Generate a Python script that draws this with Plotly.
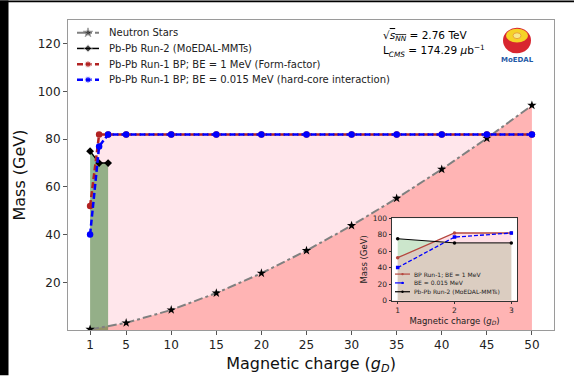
import plotly.graph_objects as go

# ---- data -------------------------------------------------------------
charge_ns = [1, 5, 10, 15, 20, 25, 30, 35, 40, 45, 50]
mass_ns = [0.27, 2.98, 8.43, 15.5, 23.8, 33.3, 43.8, 55.2, 67.4, 80.4, 94.2]

charge_run2 = [1, 2, 3]
mass_run2 = [75, 70, 70]

charge_bp = [1, 2, 3, 5, 10, 15, 20, 25, 30, 35, 40, 45, 50]
mass_bp_ff = [52, 82, 82, 82, 82, 82, 82, 82, 82, 82, 82, 82, 82]
mass_bp_hc = [40, 77, 82, 82, 82, 82, 82, 82, 82, 82, 82, 82, 82]

x_ticks = [1, 5, 10, 15, 20, 25, 30, 35, 40, 45, 50]
y_ticks = [20, 40, 60, 80, 100, 120]
inset_x_ticks = [1, 2, 3]
inset_y_ticks = [0, 20, 40, 60, 80, 100]

FONT = "DejaVu Sans"
W, H = 574, 382
L, R, T, B = 68, 20, 20, 46
PW, PH = W - L - R, H - T - B


def px(xp):
    return (xp - L) / PW


def py(yp):
    return (H - B - yp) / PH


# series styles shared by curves and their legend keys
STYLE_NS = dict(line=dict(color="#808080", width=2, dash="dashdot"), symbol="star", msize=7, mcolor="black")
STYLE_R2 = dict(line=dict(color="black", width=1.5), symbol="diamond", msize=6, mcolor="black")
STYLE_FF = dict(line=dict(color="#b22222", width=2.5, dash="6px,3px"), symbol="circle", msize=6.5, mcolor="#b22222")
STYLE_HC = dict(line=dict(color="#0000ff", width=2.5, dash="6px,3px"), symbol="circle", msize=6.5, mcolor="#0000ff")

fig = go.Figure()

# ---- main panel: shaded regions ---------------------------------------
fig.add_trace(go.Scatter(x=charge_bp, y=mass_bp_ff, mode="lines", line=dict(width=0),
                         fill="tozeroy", fillcolor="#ffe6eb", showlegend=False, hoverinfo="skip"))
fig.add_trace(go.Scatter(x=charge_ns, y=mass_ns, mode="lines", line=dict(width=0),
                         fill="tozeroy", fillcolor="#ffb4b4", showlegend=False, hoverinfo="skip"))
fig.add_trace(go.Scatter(x=charge_run2, y=mass_run2, mode="lines", line=dict(width=0),
                         fill="tozeroy", fillcolor="rgba(0,100,0,0.42)", showlegend=False, hoverinfo="skip"))


def curve(xs, ys, st, **kw):
    return go.Scatter(x=xs, y=ys, mode="lines+markers", showlegend=False, line=st["line"],
                      marker=dict(symbol=st["symbol"], size=st["msize"], color=st["mcolor"]), **kw)


# ---- main panel: curves -----------------------------------------------
fig.add_trace(curve(charge_ns, mass_ns, STYLE_NS))
fig.add_trace(curve(charge_run2, mass_run2, STYLE_R2))
fig.add_trace(curve(charge_bp, mass_bp_ff, STYLE_FF))
fig.add_trace(curve(charge_bp, mass_bp_hc, STYLE_HC))

# ---- inset panel --------------------------------------------------------
n = 3
fig.add_trace(go.Scatter(x=charge_run2[:n], y=mass_run2[:n], mode="lines", line=dict(width=0),
                         fill="tozeroy", fillcolor="rgba(0,128,0,0.2)", showlegend=False,
                         xaxis="x2", yaxis="y2", hoverinfo="skip"))
fig.add_trace(go.Scatter(x=charge_bp[:n], y=mass_bp_ff[:n], mode="lines", line=dict(width=0),
                         fill="tozeroy", fillcolor="rgba(255,150,170,0.3)", showlegend=False,
                         xaxis="x2", yaxis="y2", hoverinfo="skip"))
fig.add_trace(go.Scatter(x=charge_bp[:n], y=mass_bp_ff[:n], mode="lines+markers", showlegend=False,
                         line=dict(color="#b5473f", width=1.3), marker=dict(size=3.5, color="#b5473f"),
                         xaxis="x2", yaxis="y2"))
fig.add_trace(go.Scatter(x=charge_bp[:n], y=mass_bp_hc[:n], mode="lines+markers", showlegend=False,
                         line=dict(color="#0000ff", width=1.3, dash="4px,2px"),
                         marker=dict(size=3.5, symbol="square", color="#0000ff"),
                         xaxis="x2", yaxis="y2"))
fig.add_trace(go.Scatter(x=charge_run2[:n], y=mass_run2[:n], mode="lines+markers", showlegend=False,
                         line=dict(color="black", width=1), marker=dict(size=3.5, color="black"),
                         xaxis="x2", yaxis="y2"))

shapes = []
annotations = []

# ---- main legend (keys drawn on a pixel-unit overlay axis) ---------------
main_legend = [
    ("Neutron Stars", STYLE_NS, 33),
    ("Pb-Pb Run-2 (MoEDAL-MMTs)", STYLE_R2, 49),
    ("Pb-Pb Run-1 BP; BE = 1 MeV (Form-factor)", STYLE_FF, 65),
    ("Pb-Pb Run-1 BP; BE = 0.015 MeV (hard-core interaction)", STYLE_HC, 81),
]
for label, st, yp in main_legend:
    fig.add_trace(go.Scatter(x=[77, 88, 99], y=[yp, yp, yp], mode="lines+markers", showlegend=False,
                             line=st["line"], hoverinfo="skip",
                             marker=dict(symbol=st["symbol"], size=[0, st["msize"], 0], color=st["mcolor"]),
                             xaxis="x3", yaxis="y3"))
    annotations.append(dict(text=label, xref="paper", yref="paper", x=px(107), y=py(yp),
                            xanchor="left", yanchor="middle", showarrow=False,
                            font=dict(family=FONT, size=10, color="#222")))

# ---- inset legend ---------------------------------------------------------
inset_legend = [
    ("BP Run-1; BE = 1 MeV", "#b5473f", "solid", 279),
    ("BE = 0.015 MeV", "#0000ff", "dash", 288),
    ("Pb-Pb Run-2 (MoEDAL-MMTs)", "black", "solid", 297),
]
for label, col, dash, yp in inset_legend:
    shapes.append(dict(type="line", xref="paper", yref="paper", x0=px(395), x1=px(410),
                       y0=py(yp), y1=py(yp), line=dict(color=col, width=1.2, dash=dash)))
    shapes.append(dict(type="circle", xref="paper", yref="paper", x0=px(401.3), x1=px(403.7),
                       y0=py(yp + 1.2), y1=py(yp - 1.2), fillcolor=col, line=dict(width=0)))
    annotations.append(dict(text=label, xref="paper", yref="paper", x=px(412), y=py(yp),
                            xanchor="left", yanchor="middle", showarrow=False,
                            font=dict(family=FONT, size=6, color="#222")))

# ---- text and logo ------------------------------------------------------
annotations.append(dict(
    text='√<span style="text-decoration:overline"><i>s</i><sub><i>NN</i></sub></span> = 2.76 TeV',
    xref="paper", yref="paper", x=px(381), y=py(36), xanchor="left", yanchor="middle",
    showarrow=False, font=dict(family=FONT, size=10.5, color="black")))
annotations.append(dict(
    text="L<sub><i>CMS</i></sub> = 174.29 <i>μ</i>b<sup>−1</sup>",
    xref="paper", yref="paper", x=px(381), y=py(52), xanchor="left", yanchor="middle",
    showarrow=False, font=dict(family=FONT, size=10.5, color="black")))

cx, cy = 517, 41
shapes.append(dict(type="circle", xref="paper", yref="paper", x0=px(cx - 14), x1=px(cx + 14),
                   y0=py(cy + 13), y1=py(cy - 13), fillcolor="#d8262f", line=dict(width=0)))
shapes.append(dict(type="circle", xref="paper", yref="paper", x0=px(cx - 11), x1=px(cx + 11),
                   y0=py(cy + 2), y1=py(cy - 12), fillcolor="#f5d327", line=dict(width=0)))
shapes.append(dict(type="circle", xref="paper", yref="paper", x0=px(cx - 4), x1=px(cx + 4),
                   y0=py(cy - 2), y1=py(cy - 8), fillcolor="#f7e88a", line=dict(color="#e9a23b", width=1)))
annotations.append(dict(text="<b>MoEDAL</b>", xref="paper", yref="paper", x=px(cx), y=py(61),
                        xanchor="center", yanchor="middle", showarrow=False,
                        font=dict(family=FONT, size=7, color="#1f5aa6")))

# page frame strips
shapes.append(dict(type="rect", xref="paper", yref="paper", x0=px(0), x1=px(8.5), y0=py(H), y1=py(0),
                   fillcolor="black", line=dict(width=0), layer="above"))
shapes.append(dict(type="rect", xref="paper", yref="paper", x0=px(0), x1=px(W), y0=py(2), y1=py(0),
                   fillcolor="black", line=dict(width=0), layer="above"))

axis_common = dict(showgrid=False, zeroline=False, mirror=True, showline=True, ticks="outside")

fig.update_layout(
    width=W, height=H,
    margin=dict(l=L, r=R, t=T, b=B),
    paper_bgcolor="white", plot_bgcolor="white",
    font=dict(family=FONT, color="#222"),
    showlegend=False,
    xaxis=dict(range=[-1.45, 52.45], tickvals=x_ticks, linecolor="#9a9a9a", tickcolor="#555",
               ticklen=4, tickfont=dict(size=12, color="#222"),
               title=dict(text="Magnetic charge (<i>g</i><sub><i>D</i></sub>)",
                          font=dict(size=16, color="#111"), standoff=6),
               **axis_common),
    yaxis=dict(range=[0, 130], tickvals=y_ticks, linecolor="#9a9a9a", tickcolor="#555",
               ticklen=4, tickfont=dict(size=12, color="#222"),
               title=dict(text="Mass (GeV)", font=dict(size=16, color="#111"), standoff=8),
               **axis_common),
    xaxis2=dict(domain=[px(392), px(517)], anchor="y2", range=[0.9, 3.1], tickvals=inset_x_ticks,
                linecolor="#333", tickcolor="#333", ticklen=2.5, tickfont=dict(size=7.5, color="#222"),
                title=dict(text="Magnetic charge (<i>g</i><sub><i>D</i></sub>)",
                           font=dict(size=8.5, color="#222"), standoff=3),
                **axis_common),
    yaxis2=dict(domain=[py(306), py(222)], anchor="x2", range=[0, 100], tickvals=inset_y_ticks,
                linecolor="#333", tickcolor="#333", ticklen=2.5, tickfont=dict(size=7.5, color="#222"),
                title=dict(text="Mass (GeV)", font=dict(size=8.5, color="#222"), standoff=3),
                **axis_common),
    # pixel-unit overlay used only for the legend keys
    xaxis3=dict(overlaying="x", anchor="y3", range=[L, W - R], visible=False, fixedrange=True),
    yaxis3=dict(overlaying="y", anchor="x3", range=[H - B, T], visible=False, fixedrange=True),
    shapes=shapes,
    annotations=annotations,
)

fig.write_html("out.html")
